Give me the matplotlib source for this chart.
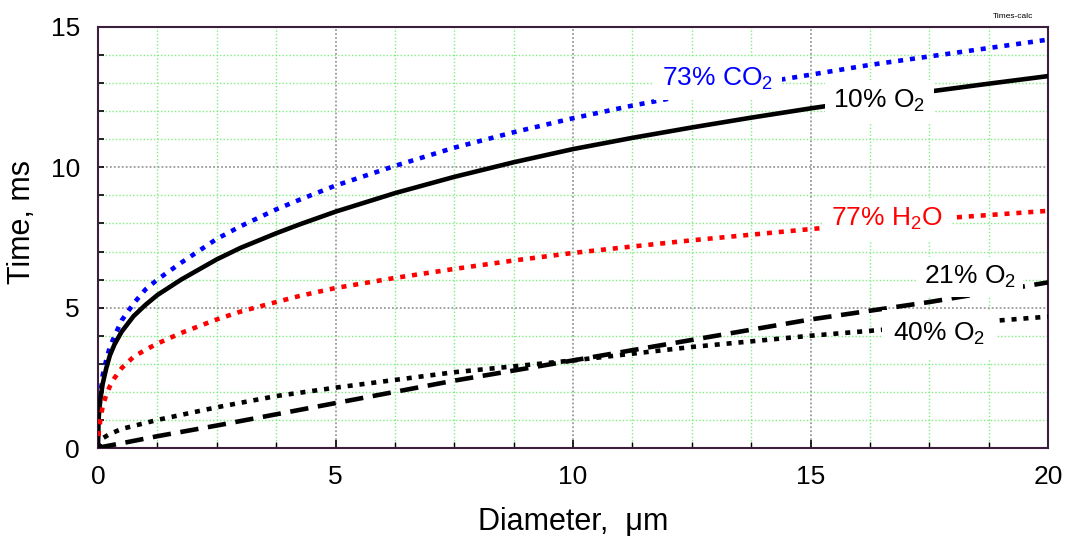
import matplotlib
matplotlib.use("Agg")
import matplotlib.pyplot as plt
from matplotlib.ticker import MultipleLocator

plt.rcParams['font.family'] = ['Liberation Sans', 'DejaVu Sans']
plt.rcParams['mathtext.fontset'] = 'custom'
plt.rcParams['mathtext.rm'] = 'Liberation Sans'
plt.rcParams['mathtext.it'] = 'Liberation Sans'
plt.rcParams['mathtext.default'] = 'regular'

# ---- data ----
diam_fast = [0, 0.01, 0.02, 0.05, 0.1, 0.175, 0.25, 0.35, 0.5, 0.75, 1.0, 1.25, 1.75, 2.5, 3.0,
             3.75, 4.25, 5, 6.25, 7.5, 8.75, 10, 11.25, 12.5, 13.75, 15, 16.25, 17.5, 18.75, 20]
t_co2_73 = [0, 0.9, 1.3, 1.9, 2.6, 3.15, 3.6, 4.0, 4.55, 5.15, 5.65, 6.0, 6.6, 7.45, 7.9,
            8.5, 8.85, 9.35, 10.05, 10.7, 11.25, 11.75, 12.2, 12.6, 12.95, 13.3, 13.65, 13.95, 14.25, 14.55]
t_o2_10 = [0, 0.9, 1.2, 1.75, 2.3, 2.85, 3.3, 3.7, 4.15, 4.7, 5.1, 5.45, 6.0, 6.72, 7.13,
           7.65, 7.97, 8.42, 9.08, 9.66, 10.18, 10.65, 11.05, 11.42, 11.77, 12.1, 12.41, 12.7, 12.98, 13.25]
t_h2o_77 = [0, 0.45, 0.6, 1.0, 1.5, 1.9, 2.2, 2.5, 2.85, 3.25, 3.5, 3.72, 4.1, 4.58, 4.86,
            5.2, 5.42, 5.7, 6.06, 6.38, 6.68, 6.95, 7.18, 7.4, 7.6, 7.8, 7.98, 8.15, 8.3, 8.45]

diam_slow = [0, 0.1, 0.25, 0.5, 1.25, 2.5, 3.75, 5, 7.5, 10, 12.5, 15, 17.5, 20]
t_o2_21 = [0, 0.04, 0.09, 0.17, 0.42, 0.8, 1.2, 1.6, 2.4, 3.12, 3.85, 4.58, 5.2, 5.9]
t_o2_40 = [0, 0.35, 0.5, 0.68, 1.0, 1.45, 1.85, 2.15, 2.7, 3.12, 3.6, 4.0, 4.35, 4.68]

x_ticks = [0, 5, 10, 15, 20]
y_ticks = [0, 5, 10, 15]

W, H = 1065, 536
fig = plt.figure(figsize=(W / 100, H / 100), dpi=100)
ax = fig.add_axes([98 / W, 1 - 448 / H, (1048 - 98) / W, (448 - 27) / H])

ax.set_xlim(0, 20)
ax.set_ylim(0, 15)

# grid
ax.xaxis.set_minor_locator(MultipleLocator(1.25))
ax.yaxis.set_minor_locator(MultipleLocator(1))
ax.set_xticks(x_ticks)
ax.set_yticks(y_ticks)
ax.grid(which='minor', color='#80EE80', linestyle=(0, (1, 1.5)), linewidth=1.0, zorder=0)
ax.grid(which='major', color='#9a9a9a', linestyle=(0, (1, 1.2)), linewidth=1.3, zorder=0)
ax.set_axisbelow(True)

lw = 3.3
dot = (0, (1.1, 1.5))
dash = (0, (4.0, 2.1))
ax.plot(diam_fast, t_co2_73, color='#0000FF', lw=lw, linestyle=dot, dash_capstyle='butt', zorder=3)
ax.plot(diam_fast, t_o2_10, color='black', lw=lw, linestyle='-', zorder=3)
ax.plot(diam_fast, t_h2o_77, color='#FF0000', lw=lw, linestyle=dot, dash_capstyle='butt', zorder=3)
ax.plot(diam_slow, t_o2_21, color='black', lw=lw, linestyle=dash, dash_capstyle='butt', zorder=3)
ax.plot(diam_slow, t_o2_40, color='black', lw=lw, linestyle=dot, dash_capstyle='butt', zorder=3)

def box(p):
    return dict(facecolor='white', edgecolor='none', pad=p)

fs_lab = 19
ax.text(13.05, 13.15, '73% CO$_2$', color='#0000FF', fontsize=fs_lab, ha='center', va='center', bbox=box(6), zorder=5)
ax.text(16.45, 12.35, '10% O$_2$', color='black', fontsize=fs_lab, ha='center', va='center', bbox=box(6), zorder=5)
ax.text(16.6, 8.15, '77% H$_2$O', color='#FF0000', fontsize=fs_lab, ha='center', va='center', bbox=box(6), zorder=5)
ax.text(18.35, 6.1, '21% O$_2$', color='black', fontsize=fs_lab, ha='center', va='center', bbox=box(5), zorder=5)
ax.text(17.7, 4.05, '40% O$_2$', color='black', fontsize=fs_lab, ha='center', va='center', bbox=box(8), zorder=5)

# spines and ticks
for s in ax.spines.values():
    s.set_color('#3c1f3c')
    s.set_linewidth(1.5)
ax.tick_params(axis='both', which='both', direction='in', color='black', labelsize=19, pad=12)
ax.tick_params(axis='x', which='major', length=6, width=1.2)
ax.tick_params(axis='x', which='minor', length=4, width=1.0)
ax.tick_params(axis='y', which='both', length=4.5, width=1.2)
ax.tick_params(axis='y', which='major', pad=13)

ax.set_xlabel('Diameter,  μm', fontsize=22, labelpad=13)
ax.set_ylabel('Time, ms', fontsize=22)
ax.yaxis.set_label_coords(-0.064, 0.537)

fig.text(1013 / W, 1 - 17 / H, 'Times-calc', fontsize=6, ha='center', va='center')

fig.savefig('out.png', dpi=100)
